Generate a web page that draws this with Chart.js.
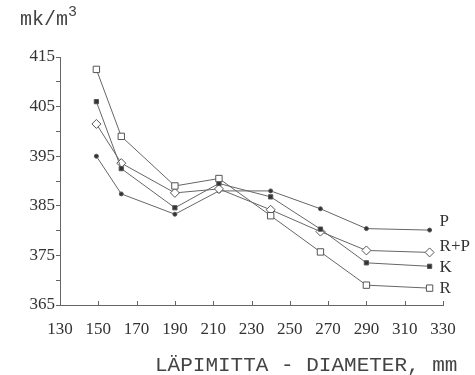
<!DOCTYPE html>
<html>
<head>
<meta charset="utf-8">
<script src="https://cdn.jsdelivr.net/npm/chart.js@4.4.0/dist/chart.umd.min.js"></script>
<style>
  html, body { margin: 0; padding: 0; background: #fff; }
  #wrap { width: 475px; height: 375px; }
</style>
</head>
<body>
<div id="wrap"><canvas id="myChart" width="475" height="375"></canvas></div>
<script>
const diameters = [149, 162, 190, 213, 240, 266, 290, 323];
const seriesNames = ['R', 'K', 'R+P', 'P'];
const valuesR  = [412.5, 399.0, 389.0, 390.5, 383.0, 375.7, 369.0, 368.4];
const valuesK  = [406.0, 392.5, 384.6, 389.5, 386.8, 380.3, 373.5, 372.8];
const valuesRP = [401.5, 393.6, 387.6, 388.4, 384.2, 379.8, 376.0, 375.6];
const valuesP  = [395.0, 387.4, 383.3, 388.0, 388.0, 384.4, 380.4, 380.1];
const xTicks = [130, 150, 170, 190, 210, 230, 250, 270, 290, 310, 330];
const yTicks = [365, 375, 385, 395, 405, 415];

const serif = '"Liberation Serif", "DejaVu Serif", serif';
const mono = '"Liberation Mono", "DejaVu Sans Mono", monospace';
const ink = '#666';

function toPoints(vals) {
  let pts = [];
  for (let i = 0; i < vals.length; i++) {
    pts.push({x: diameters[i], y: vals[i]});
  }
  return pts;
}

function makeSet(label, vals, style, radius, fill) {
  return {
    label: label,
    data: toPoints(vals),
    borderColor: ink,
    borderWidth: 1,
    pointStyle: style,
    pointRadius: radius,
    pointBorderColor: '#555',
    pointBorderWidth: 1,
    pointBackgroundColor: fill,
    showLine: true,
    tension: 0
  };
}

// labels at the right end of each line, and the extra texts
const textPlugin = {
  id: 'texts',
  afterDatasetsDraw(chart) {
    const ctx = chart.ctx;
    const dy = [0, 1, -6, -9];
    ctx.save();
    ctx.fillStyle = '#333';
    ctx.font = '17px ' + serif;
    ctx.textBaseline = 'middle';
    chart.data.datasets.forEach((ds, i) => {
      const meta = chart.getDatasetMeta(i);
      const last = meta.data[meta.data.length - 1];
      ctx.fillText(ds.label, last.x + 10, last.y + dy[i]);
    });
    // x ticks pointing inward
    const xs = chart.scales.x;
    ctx.strokeStyle = ink;
    ctx.lineWidth = 1;
    xTicks.forEach(v => {
      const px = Math.round(xs.getPixelForValue(v)) + 0.5;
      ctx.beginPath();
      ctx.moveTo(px, xs.top);
      ctx.lineTo(px, xs.top - 4);
      ctx.stroke();
    });
    // unit label
    ctx.font = '20px ' + mono;
    ctx.textBaseline = 'alphabetic';
    ctx.fillStyle = '#444';
    ctx.fillText('mk/m', 20, 25);
    const w = ctx.measureText('mk/m').width;
    ctx.font = '15px ' + mono;
    ctx.fillText('3', 20 + w, 16);
    // axis title
    ctx.font = '21px ' + mono;
    ctx.fillText('LÄPIMITTA - DIAMETER, mm', 155, 371);
    ctx.restore();
  }
};

new Chart(document.getElementById('myChart'), {
  type: 'scatter',
  data: {
    datasets: [
      makeSet(seriesNames[0], valuesR, 'rect', 4.5, '#fff'),
      makeSet(seriesNames[1], valuesK, 'rect', 3, '#333'),
      makeSet(seriesNames[2], valuesRP, 'rectRot', 4.5, '#fff'),
      makeSet(seriesNames[3], valuesP, 'circle', 2, '#333')
    ]
  },
  options: {
    responsive: false,
    animation: false,
    layout: { padding: { left: 0, right: 32, top: 57, bottom: 0 } },
    plugins: {
      legend: { display: false },
      tooltip: { enabled: false }
    },
    scales: {
      x: {
        type: 'linear',
        min: 130,
        max: 330,
        afterBuildTicks: s => { s.ticks = xTicks.map(v => ({value: v})); },
        afterFit: s => { s.height = 70; },
        border: { color: ink, width: 1 },
        grid: { display: false, drawTicks: false },
        ticks: {
          color: '#333',
          font: { family: serif, size: 17 },
          padding: 14,
          maxRotation: 0,
          autoSkip: false
        }
      },
      y: {
        min: 365,
        max: 415,
        afterBuildTicks: s => {
          let t = [];
          for (let v = 365; v <= 415; v += 5) t.push({value: v});
          s.ticks = t;
        },
        afterFit: s => { s.width = 60; },
        border: { color: ink, width: 1 },
        grid: { drawOnChartArea: false, tickLength: 4, color: ink },
        ticks: {
          color: '#333',
          font: { family: serif, size: 17 },
          padding: 1,
          autoSkip: false,
          callback: v => (yTicks.includes(v) ? String(v) : '')
        }
      }
    }
  },
  plugins: [textPlugin]
});
</script>
</body>
</html>
